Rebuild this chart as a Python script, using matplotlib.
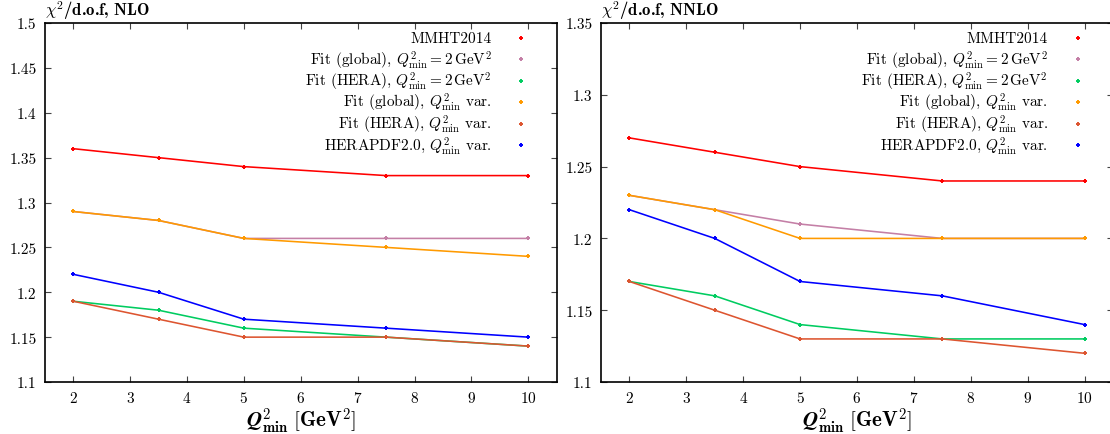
import matplotlib
matplotlib.use("Agg")
from matplotlib import pyplot as plt

plt.rcParams['font.family'] = ['cmr10', 'DejaVu Serif']
plt.rcParams['mathtext.fontset'] = 'cm'
plt.rcParams['axes.formatter.use_mathtext'] = True

q2min = [2, 3.5, 5, 7.5, 10]

labels = [
    r"MMHT2014",
    r"Fit (global), $Q^2_{\rm min} = 2\,{\rm GeV}^2$",
    r"Fit (HERA), $Q^2_{\rm min} = 2\,{\rm GeV}^2$",
    r"Fit (global), $Q^2_{\rm min}$ var.",
    r"Fit (HERA), $Q^2_{\rm min}$ var.",
    r"HERAPDF2.0, $Q^2_{\rm min}$ var.",
]
colors = ["#ff0000", "#c47fa6", "#00cc60", "#ff9a00", "#dd5530", "#0000ff"]

# chi2/dof, NLO
nlo = [
    [1.36, 1.35, 1.34, 1.33, 1.33],
    [1.29, 1.28, 1.26, 1.26, 1.26],
    [1.19, 1.18, 1.16, 1.15, 1.14],
    [1.29, 1.28, 1.26, 1.25, 1.24],
    [1.19, 1.17, 1.15, 1.15, 1.14],
    [1.22, 1.20, 1.17, 1.16, 1.15],
]
# chi2/dof, NNLO
nnlo = [
    [1.27, 1.26, 1.25, 1.24, 1.24],
    [1.23, 1.22, 1.21, 1.20, 1.20],
    [1.17, 1.16, 1.14, 1.13, 1.13],
    [1.23, 1.22, 1.20, 1.20, 1.20],
    [1.17, 1.15, 1.13, 1.13, 1.12],
    [1.22, 1.20, 1.17, 1.16, 1.14],
]

fig = plt.figure(figsize=(11.1, 4.35), dpi=100)
ax1 = fig.add_axes([0.0403, 0.1195, 0.4613, 0.8253])
ax2 = fig.add_axes([0.5414, 0.1195, 0.4613, 0.8253])


def draw(ax, data, ylim, yticks, order):
    for vals, c in zip(data, colors):
        ax.plot(q2min, vals, color=c, lw=1.15, marker='+', ms=3.5, mew=1.4)
    ax.set_xlim(1.5, 10.5)
    ax.set_ylim(*ylim)
    ax.set_xticks(range(2, 11))
    ax.set_yticks(yticks)
    ax.set_yticklabels([f"{t:g}" for t in yticks])
    ax.tick_params(direction='in', top=True, right=True, length=4,
                   width=0.8, labelsize=11, color='#444444', pad=6)
    for s in ax.spines.values():
        s.set_linewidth(1.2)
    ax.set_xlabel(r"$\mathbfit{Q}^{\mathbf{2}}_{\mathbf{min}}\ [\mathbf{GeV}^{\mathbf{2}}]$",
                  fontsize=15, labelpad=0)
    ax.text(0.0, 1.006, r"$\chi^2$/d.o.f, " + order, transform=ax.transAxes,
            fontsize=12, family='cmb10', ha='left', va='bottom')
    # gnuplot style key: text right aligned, point sample right of it
    for i, (lab, c) in enumerate(zip(labels, colors)):
        y = 0.958 - i * 0.0596
        ax.text(0.873, y, lab, transform=ax.transAxes, ha='right',
                va='center', fontsize=11)
        ax.plot([0.931], [y], transform=ax.transAxes, color=c,
                marker='+', ms=3.5, mew=1.4, clip_on=False)


draw(ax1, nlo, (1.1, 1.5), [1.1, 1.15, 1.2, 1.25, 1.3, 1.35, 1.4, 1.45, 1.5], "NLO")
draw(ax2, nnlo, (1.1, 1.35), [1.1, 1.15, 1.2, 1.25, 1.3, 1.35], "NNLO")

fig.savefig("out.png", dpi=100)
